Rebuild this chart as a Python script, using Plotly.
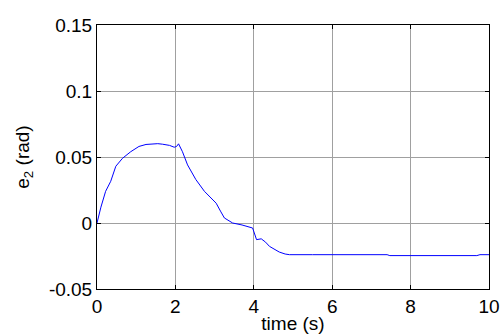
import plotly.graph_objects as go

# time (s) and e2 (rad)
t = [0.0, 0.1, 0.22, 0.35, 0.48, 0.65, 0.86, 1.07, 1.25, 1.41, 1.55, 1.67, 1.85, 1.97, 2.03, 2.08,
     2.18, 2.31, 2.52, 2.74, 2.9, 3.04, 3.15, 3.25, 3.46, 3.7, 3.97, 4.02, 4.07, 4.19, 4.3,
     4.4, 4.55, 4.65, 4.8, 4.91, 5.5, 6.5, 7.4, 7.47, 8.5, 9.69, 9.77, 10.0]
e2 = [0.0, 0.012, 0.024, 0.0316, 0.043, 0.049, 0.054, 0.058, 0.0595, 0.060, 0.0601, 0.0597, 0.0588,
      0.0574, 0.058, 0.060, 0.054, 0.044, 0.033, 0.024, 0.019, 0.015, 0.009, 0.0038, 0.0,
      -0.0015, -0.0038, -0.008, -0.0126, -0.012, -0.0145, -0.0177, -0.0205, -0.022, -0.0235,
      -0.024, -0.024, -0.024, -0.024, -0.0247, -0.0247, -0.0247, -0.024, -0.024]

x_ticks = [0, 2, 4, 6, 8, 10]
y_ticks = [-0.05, 0, 0.05, 0.1, 0.15]
y_tick_text = ["-0.05", "0", "0.05", "0.1", "0.15"]

fig = go.Figure()
fig.add_trace(go.Scatter(x=t, y=e2, mode="lines",
                         line=dict(color="#0000ff", width=1), showlegend=False))

font = dict(family="Liberation Sans, Arial, sans-serif", size=19, color="black")
axis_common = dict(showline=True, linecolor="black", linewidth=1, mirror="ticks",
                   ticks="inside", ticklen=4, tickcolor="black",
                   showgrid=True, gridcolor="#a0a0a0", gridwidth=1,
                   zeroline=False, tickfont=font, automargin=False)

fig.update_layout(
    width=502, height=334,
    margin=dict(l=97, r=13, t=25, b=45),
    paper_bgcolor="white", plot_bgcolor="white",
    font=font,
    xaxis=dict(range=[0, 10], tickvals=x_ticks, ticktext=[str(v) for v in x_ticks],
               title=dict(text="time (s)", font=font, standoff=0), **axis_common),
    yaxis=dict(range=[-0.05, 0.15], tickvals=y_ticks, ticktext=y_tick_text,
               title=dict(text="e<sub>2</sub> (rad)", font=font, standoff=14), **axis_common),
)

fig.write_html("out.html")
